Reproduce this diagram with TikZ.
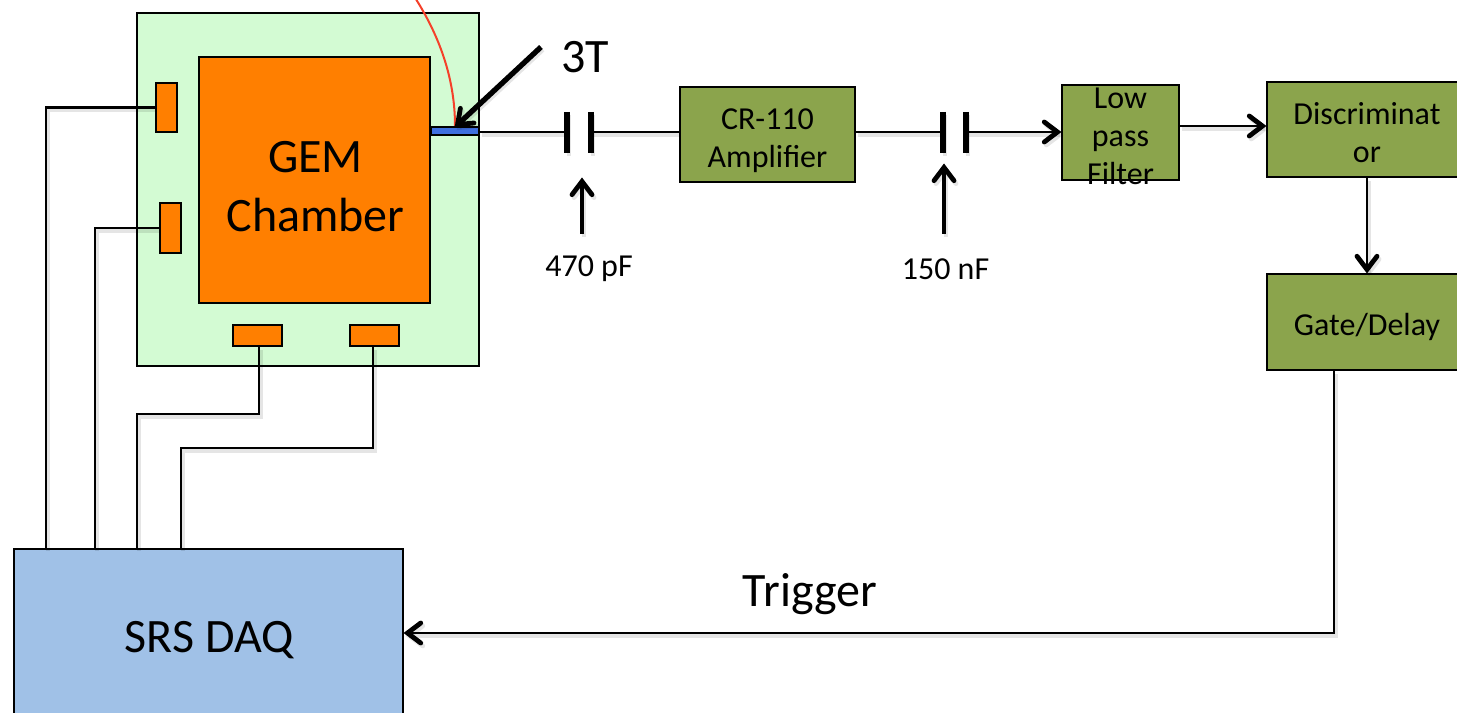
\documentclass[tikz,border=0pt]{standalone}
\usepackage{fontspec}
\setmainfont{Carlito}
\usetikzlibrary{arrows.meta,calc}
\definecolor{panelgreen}{HTML}{D3FBD3}
\definecolor{chamberorange}{HTML}{FF7F00}
\definecolor{stripblue}{HTML}{3F6FDF}
\definecolor{olivebox}{HTML}{8BA44C}
\definecolor{daqblue}{HTML}{A0C1E7}
\definecolor{redwire}{HTML}{F5402A}
\pgfdeclarearrow{
  name=Chev,
  setup code={
    \pgfarrowssettipend{0pt}
    \pgfarrowssetlineend{-2.5pt}
    \pgfarrowssetvisualbackend{-12pt}
    \pgfarrowssetbackend{-12pt}
    \pgfarrowshullpoint{0pt}{0pt}
    \pgfarrowshullpoint{-12pt}{8pt}
    \pgfarrowshullpoint{-12pt}{-8pt}
  },
  drawing code={
    \pgfsetlinewidth{3.6pt}
    \pgfsetroundcap
    \pgfsetmiterjoin
    \pgfsetdash{}{0pt}
    \pgfpathmoveto{\pgfpoint{-12.5pt}{7.5pt}}
    \pgfpathlineto{\pgfpoint{-2.6pt}{0pt}}
    \pgfpathlineto{\pgfpoint{-12.5pt}{-7.5pt}}
    \pgfusepathqstroke
  }
}
\tikzset{
  x=0.75pt,y=-0.75pt,
  sized/.style n args={2}{rectangle,draw=black,line width=1.6pt,inner sep=0pt,minimum width=#1*0.75pt,minimum height=#2*0.75pt},
  pad/.style={fill=chamberorange},
  olive/.style={fill=olivebox},
  oltext/.style={align=center,font=\fontsize{24}{28.5}\selectfont,inner sep=0pt},
  bigtext/.style={font=\fontsize{36}{44}\selectfont,align=center,inner sep=0pt},
  smalltext/.style={font=\fontsize{24}{28.5}\selectfont,inner sep=0pt},
  softshadow/.style={preaction={draw=black,opacity=.10,line width=3pt,transform canvas={shift={(1.5pt,-2.2pt)}}}},
  wire/.style={draw=black,line width=1.7pt,softshadow},
  barb/.style={-Chev},
  plate/.style={draw=black,line width=4pt,softshadow},
}
\begin{document}
\begin{tikzpicture}
\useasboundingbox (0,0) rectangle (1457,713);
\clip (0,0) rectangle (1457,713);
% boxes
\node[sized={342}{353},fill=panelgreen] (panel) at (308,189.5) {};
\node[sized={231}{246},fill=chamberorange,label={[bigtext,yshift=-4.9pt,xshift=.8pt]center:GEM\\Chamber}] (chamber) at (314.5,180) {};
\node[sized={21}{49},pad] (p1) at (166.5,107.5) {};
\node[sized={21}{50},pad] (p2) at (170.5,228) {};
\node[sized={49}{21},pad] (p3) at (257.5,335.5) {};
\node[sized={49}{21},pad] (p4) at (374.5,335.5) {};
\node[sized={48}{8},fill=stripblue] (strip) at (455,131) {};
\node[sized={389}{180},fill=daqblue,label={[bigtext,yshift=-.8pt,xshift=.6pt]center:SRS DAQ}] (daq) at (208.5,639) {};
\node[sized={175}{95},olive,label={[oltext,yshift=-4.4pt]center:CR-110\\Amplifier}] (amp) at (767.5,134.5) {};
\node[sized={117}{95},olive,label={[oltext,yshift=-2.6pt]center:Low\\pass\\Filter}] (lpf) at (1120.5,132.5) {};
\node[sized={200}{95},olive,label={[oltext,yshift=-2.2pt]center:Discriminat\\or}] (disc) at (1367,129.5) {};
\node[sized={200}{96},olive,label={[oltext,yshift=-3.6pt]center:Gate/Delay}] (gate) at (1367,322) {};
% capacitors
\coordinate (c1a) at (567,132); \coordinate (c1b) at (591,132);
\coordinate (c2a) at (943,132); \coordinate (c2b) at (966,132);
\draw[plate] ($(c1a)+(0,-20)$) -- ($(c1a)+(0,21)$);
\draw[plate] ($(c1b)+(0,-20)$) -- ($(c1b)+(0,21)$);
\draw[plate] ($(c2a)+(0,-20)$) -- ($(c2a)+(0,21)$);
\draw[plate] ($(c2b)+(0,-20)$) -- ($(c2b)+(0,21)$);
% signal chain
\draw[wire] (strip.east |- c1a) -- (c1a);
\draw[wire] (c1b) -- (amp.west |- c1b);
\draw[wire] (amp.east |- c2a) -- (c2a);
\draw[wire,barb] (c2b) -- (lpf.west |- c2b);
\draw[wire,barb] (lpf.east |- 0,126) -- (disc.west |- 0,126);
\draw[wire,barb] (disc.south) -- (gate.north);
\draw[wire,barb] ($(gate.south west)+(68,0)$) |- (daq.east |- 0,633);
% DAQ links
\draw[wire] (p1.west) -| ($(daq.north west)+(33,0)$);
\draw[wire] (p2.west) -| ($(daq.north west)+(82,0)$);
\draw[wire] ($(p3.south)+(1.5,0)$) -- ++(0,67) -| ($(daq.north west)+(124,0)$);
\draw[wire] ($(p4.south)+(-1.5,0)$) -- ++(0,101) -| ($(daq.north west)+(168,0)$);
% red wire
\coordinate (redtop) at (410,-10);
\draw[draw=redwire,line width=1.5pt] (redtop) .. controls (437,30) and (455,75) .. (strip.north -| 455,0);
% pointer arrows
\node[bigtext] (tt) at (585.5,57) {3T};
\coordinate (ttfoot) at (541,47);
\draw[draw=black,line width=4pt,softshadow,-Chev] (ttfoot) -- (455,127);
\node[smalltext] (cap1) at (589,269) {470 pF};
\node[smalltext] (cap2) at (945.5,269) {150 nF};
\coordinate (up1) at (582,234); \coordinate (up2) at (944,234);
\draw[draw=black,line width=3pt,softshadow,-Chev] (up1) -- (582,178);
\draw[draw=black,line width=3pt,softshadow,-Chev] (up2) -- (944,164);
\node[bigtext] (trig) at (810,594) {Trigger};
\end{tikzpicture}
\end{document}
